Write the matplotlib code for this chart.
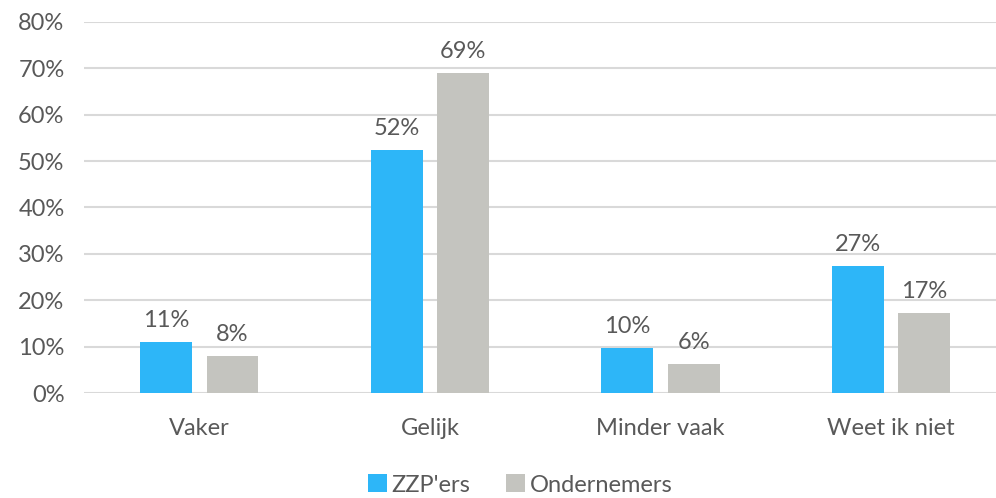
import numpy as np
import matplotlib.pyplot as plt

categories = ["Vaker", "Gelijk", "Minder vaak", "Weet ik niet"]
zzp = [11.0, 52.4, 9.7, 27.4]
ondernemers = [8.0, 69.0, 6.2, 17.2]
zzp_labels = ["11%", "52%", "10%", "27%"]
ond_labels = ["8%", "69%", "6%", "17%"]
yticks = [0, 10, 20, 30, 40, 50, 60, 70, 80]

plt.rcParams['font.family'] = ['Lato', 'DejaVu Sans']
text_col = "#595959"
blue = "#2DB6F8"
grey = "#C4C4BF"

fig = plt.figure(figsize=(9.96, 4.98), dpi=100)
ax = fig.add_axes([84 / 996, 105 / 498, 912 / 996, 371 / 498])

x = np.arange(len(categories))
w = 0.225
off = 0.144
b1 = ax.bar(x - off, zzp, w, color=blue, label="ZZP'ers", zorder=3)
b2 = ax.bar(x + off, ondernemers, w, color=grey, label="Ondernemers", zorder=3)

for bars, labels in ((b1, zzp_labels), (b2, ond_labels)):
    for rect, lab in zip(bars, labels):
        ax.annotate(lab, (rect.get_x() + rect.get_width() / 2, rect.get_height()),
                    xytext=(0, 8), textcoords="offset points", ha="center", va="bottom",
                    fontsize=17, color=text_col)

ax.set_xlim(-0.5, 3.455)
ax.set_ylim(0, 80)
ax.set_yticks(yticks)
ax.set_yticklabels([f"{t}%" for t in yticks])
ax.set_xticks(x)
ax.set_xticklabels(categories)
ax.tick_params(length=0, labelsize=17, labelcolor=text_col)
ax.tick_params(axis="x", pad=18)
ax.tick_params(axis="y", pad=14)
ax.grid(axis="y", color="#D9D9D9", linewidth=1.5, zorder=0)
for s in ax.spines.values():
    s.set_visible(False)

fig.legend(handles=[b1, b2], loc="center", bbox_to_anchor=(520 / 996, 13 / 498), ncol=2,
           frameon=False, fontsize=17, labelcolor=text_col, handlelength=0.8,
           handleheight=0.8, handletextpad=0.2, columnspacing=1.5)

fig.savefig("out.png", dpi=100)
